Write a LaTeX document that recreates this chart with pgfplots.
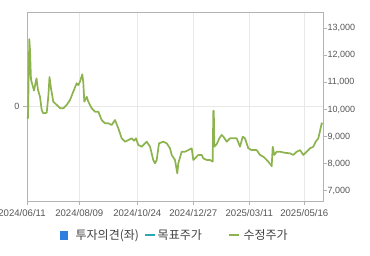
\documentclass[border=0pt]{standalone}
\usepackage{pgfplots}
\pgfplotsset{compat=1.18}
\usepackage{fontspec}
\setmainfont{Liberation Sans}
\newfontfamily\kr{Noto Sans CJK KR}
\definecolor{price}{HTML}{8CB34E}
\definecolor{opin}{HTML}{2F7FE0}
\definecolor{tgt}{HTML}{2AA9B4}
\definecolor{framec}{HTML}{B3B3B3}
\definecolor{gridc}{HTML}{E8E8E8}
\definecolor{lbl}{HTML}{555555}
\pgfplotsset{shortline/.style={legend image code/.code={\draw[##1] (0pt,0pt) -- (10pt,0pt);}}}
\begin{document}
\begin{tikzpicture}[x=1pt,y=1pt]
\useasboundingbox (0,0) rectangle (370,255);
\begin{axis}[
 at={(27pt,54pt)}, anchor=south west, scale only axis, width=296pt, height=189pt,
 xmin=27, xmax=323, ymin=-1, ymax=1,
 xtick={27,79.3,137.3,193.3,249.3,304.3},
 xticklabels={2024/06/11\hspace*{10pt},2024/08/09,2024/10/24,2024/12/27,2025/03/11,2025/05/16},
 ytick={0}, yticklabels={0},
 xmajorgrids, ymajorgrids, grid style={gridc, line width=0.8pt},
 axis line style={framec, line width=0.8pt},
 tick style={framec, line width=0.8pt},
 tick align=outside, major tick length=4pt, tick pos=left,
 xticklabel style={font=\fontsize{9.6}{10}\selectfont, text=lbl, yshift=-1pt},
 yticklabel style={font=\fontsize{9}{10}\selectfont, text=lbl},
]
\end{axis}
\begin{axis}[
 at={(27pt,54pt)}, anchor=south west, scale only axis, width=296pt, height=189pt,
 xmin=27, xmax=323, ymin=6619, ymax=13602,
 axis y line*=right, axis x line=none,
 ytick={7000,8000,...,13000}, scaled y ticks=false,
 /pgf/number format/.cd, fixed, 1000 sep={,}, assume math mode=true, /pgfplots/.cd,
 axis line style={framec, line width=0.8pt},
 tick style={framec, line width=0.8pt},
 tick align=outside, major tick length=4pt,
 yticklabel style={font=\fontsize{9}{10}\selectfont, text=lbl, xshift=-3pt},
 legend columns=-1,
 legend style={at={(0.5,-0.18)}, anchor=center, draw=none, fill=none,
   font=\kr\fontsize{12}{13}\selectfont, text=black!75,
   /tikz/every even column/.append style={column sep=0pt}},
]
\addlegendimage{only marks, mark=square*, mark size=3.7pt, color=opin}
\addlegendentry{\hspace*{6pt}투자의견(좌)\hspace*{3pt}}
\addlegendimage{tgt, line width=1.8pt, shortline}
\addlegendentry{목표주가\hspace*{24pt}}
\addplot[price, line width=1.7pt, line join=round, shortline] coordinates {
(27,9750) (28,9680) (29.3,12600) (30,12200) (31,11100) (32.5,10900) (34,10700)
(36.5,11150) (38,10720) (40,10470) (41.7,9980) (43.3,9860) (46.7,9880)
(48.3,10470) (49.5,11200) (51,10780) (53.3,10290) (56.7,10170) (60,10050)
(63.3,10040) (66.7,10170) (70,10350) (73.3,10660) (76.7,10970) (78.3,10900)
(80,11030) (82.3,11300) (83.3,11000) (84.3,10290) (86.7,10470) (88.3,10290)
(91.7,10045) (95,9920) (98.3,9920) (101.7,9610) (105,9490) (108.3,9490)
(111.7,9430) (115,9610) (118.3,9305) (121.7,8935) (125,8810) (128.3,8870)
(131.7,8935) (134,8845) (136,8935) (138.3,8690) (141.7,8625) (146.7,8810)
(150,8625) (153.3,8134) (155,8010) (156.7,8134) (159,8750) (163.3,8810)
(166.7,8750) (170,8566) (171.7,8320) (175,8134) (177.3,7640) (178.3,8010)
(181.7,8440) (185,8440) (188.3,8500) (191.7,8566) (193.3,8134) (195,8195)
(198.3,8320) (201.7,8320) (203.3,8195) (206.7,8134) (210,8134) (212.7,8072)
(213.3,9950) (213.8,9950) (214.3,8625) (216.7,8720) (219.3,8935) (221.7,9060)
(223.3,9000) (226.7,8810) (230,8935) (233.3,8935) (236.7,8935) (240,8625)
(242.7,8995) (245,8935) (248.3,8566) (251.7,8500) (256.7,8500) (260,8320)
(263.3,8256) (265,8200) (268.3,8072) (271,7950) (271.7,7900) (272.7,8625)
(274.3,8320) (276.7,8440) (280,8440) (285,8400) (290,8380) (293.3,8320)
(296.7,8440) (300,8500) (303.3,8320) (306.7,8440) (310,8566) (313.3,8625)
(315.7,8810) (318.3,8935) (320,9205) (321.7,9490) (322.5,9450)
};
\addlegendentry{\hspace*{2pt}수정주가}
\end{axis}
\end{tikzpicture}
\end{document}
